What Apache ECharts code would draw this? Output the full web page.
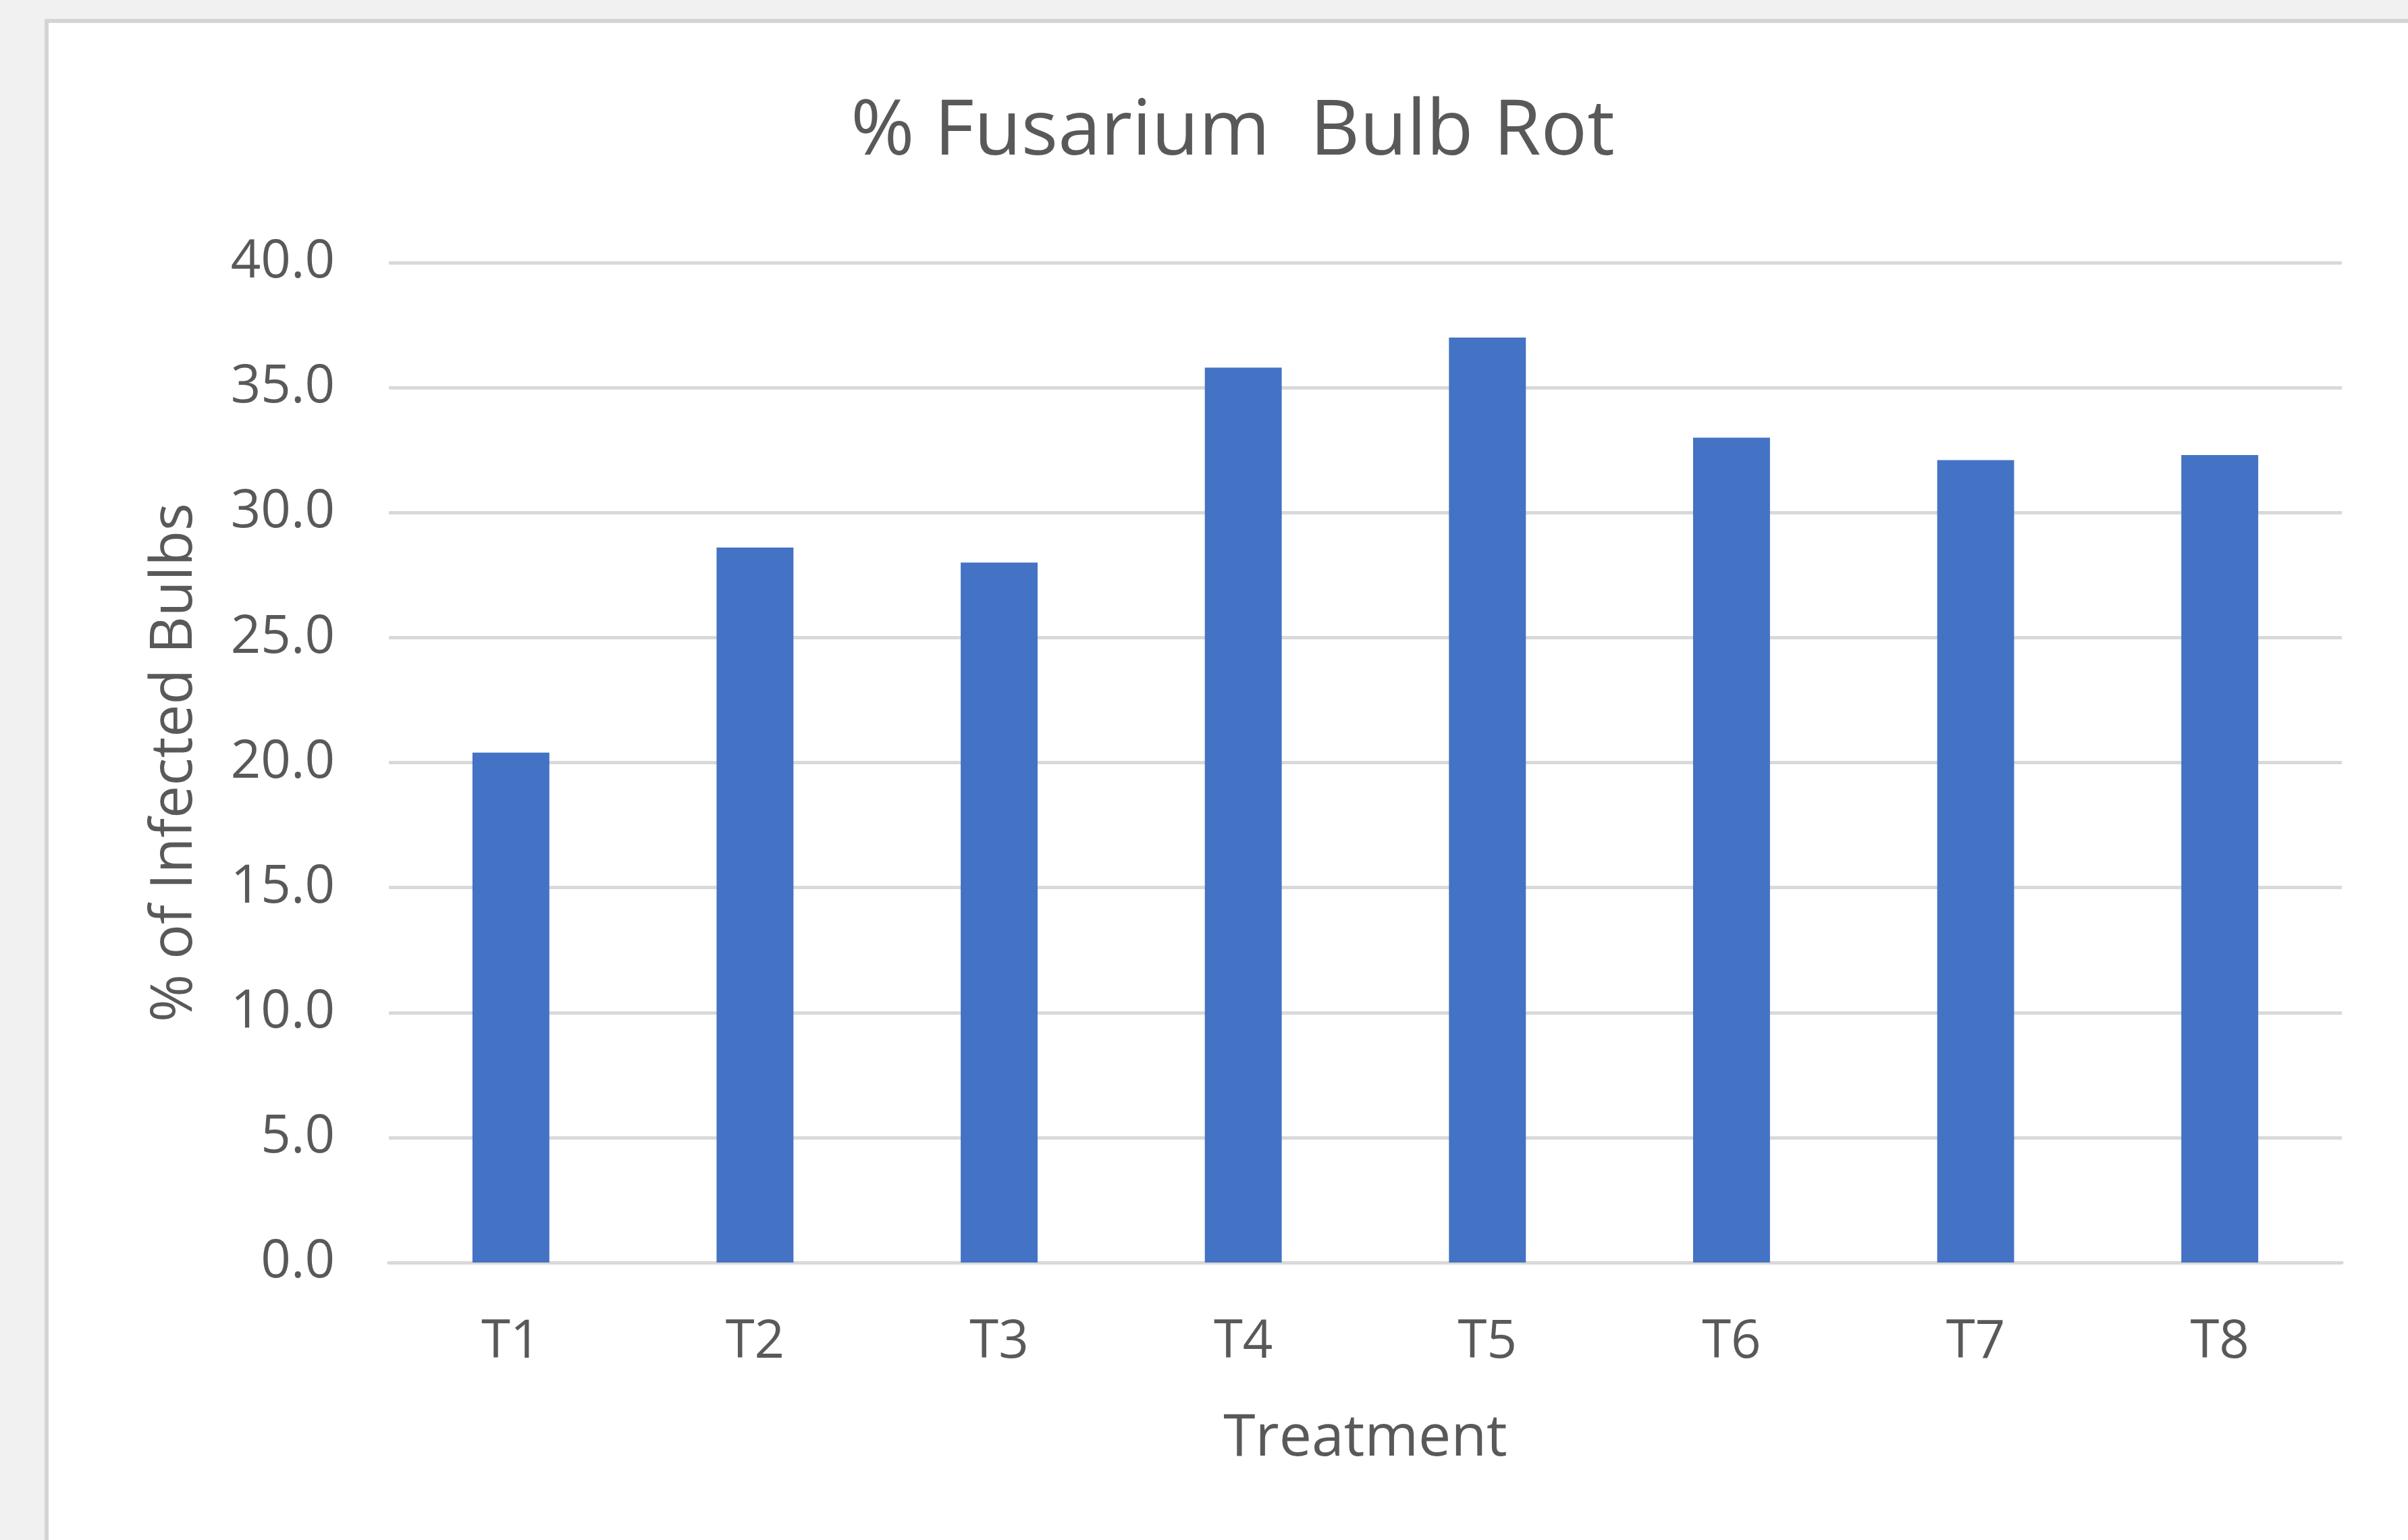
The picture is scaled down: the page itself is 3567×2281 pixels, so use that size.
<!DOCTYPE html>
<html>
<head>
<meta charset="utf-8">
<title>% Fusarium Bulb Rot</title>
<script src="https://cdn.jsdelivr.net/npm/echarts@6/dist/echarts.min.js"></script>
<style>
    html, body { margin: 0; padding: 0; background: #f1f1f1; }
    #chart { width: 3567px; height: 2281px; }
</style>
</head>
<body>
<div id="chart"></div>
<script>
// Chart data
const treatments = ['T1', 'T2', 'T3', 'T4', 'T5', 'T6', 'T7', 'T8'];
const infectedPct = [20.4, 28.6, 28.0, 35.8, 37.0, 33.0, 32.1, 32.3];
const yTicks = { min: 0, max: 40, interval: 5 };

const textColor = '#595959';
const gridColor = '#d9d9d9';
const fontFamily = '"Open Sans", "Noto Sans", sans-serif';

const chart = echarts.init(document.getElementById('chart'));

const option = {
    backgroundColor: '#f1f1f1',
    animation: false,
    // white chart panel with grey border on top/left
    graphic: [{
        type: 'rect',
        left: 66,
        top: 28,
        shape: { width: 3567, height: 2300 },
        style: { fill: '#ffffff', stroke: '#d4d4d4', lineWidth: 6 },
        z: -10
    }],
    title: {
        text: '% Fusarium  Bulb Rot',
        left: 1821,
        top: 135,
        textAlign: 'center',
        textStyle: {
            color: textColor,
            fontFamily: fontFamily,
            fontSize: 114,
            fontWeight: 'normal'
        }
    },
    grid: {
        left: 576,
        right: 3567 - 3469,
        top: 389,
        bottom: 2281 - 1870,
        containLabel: false
    },
    xAxis: {
        type: 'category',
        data: treatments,
        name: 'Treatment',
        nameLocation: 'middle',
        nameGap: 218,
        nameTextStyle: { color: textColor, fontFamily: fontFamily, fontSize: 86 },
        axisLine: { show: true, lineStyle: { color: gridColor, width: 5 } },
        axisTick: { show: false },
        axisLabel: { color: textColor, fontFamily: fontFamily, fontSize: 78, margin: 80 }
    },
    yAxis: {
        type: 'value',
        min: yTicks.min,
        max: yTicks.max,
        interval: yTicks.interval,
        name: '% of Infected Bulbs',
        nameLocation: 'middle',
        nameGap: 274,
        nameTextStyle: { color: textColor, fontFamily: fontFamily, fontSize: 86 },
        axisLine: { show: false },
        axisTick: { show: false },
        splitLine: { lineStyle: { color: gridColor, width: 5 } },
        axisLabel: {
            color: textColor,
            fontFamily: fontFamily,
            fontSize: 78,
            margin: 80,
            padding: [10, 0, 0, 0],
            formatter: function (v) { return v.toFixed(1); }
        }
    },
    series: [{
        name: '% of Infected Bulbs',
        type: 'bar',
        data: infectedPct,
        barWidth: '31.5%',
        itemStyle: { color: '#4472c4' }
    }]
};

chart.setOption(option);
</script>
</body>
</html>
